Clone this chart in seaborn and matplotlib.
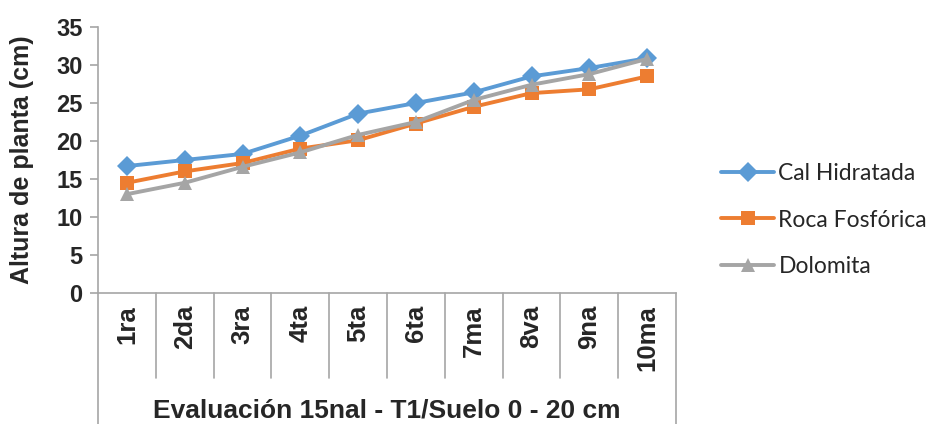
import numpy as np
import pandas as pd
import seaborn as sns
import matplotlib.pyplot as plt
from matplotlib.lines import Line2D

# Evaluation rounds (categories)
evaluaciones = ["1ra", "2da", "3ra", "4ta", "5ta", "6ta", "7ma", "8va", "9na", "10ma"]

# Plant height (cm) per amendment
cal_hidratada = [16.7, 17.5, 18.3, 20.7, 23.6, 25.0, 26.4, 28.5, 29.6, 30.9]
roca_fosforica = [14.5, 16.0, 17.1, 19.0, 20.1, 22.3, 24.5, 26.3, 26.8, 28.5]
dolomita = [13.0, 14.5, 16.6, 18.5, 20.8, 22.5, 25.4, 27.4, 28.8, 30.8]

series_names = ["Cal Hidratada", "Roca Fosfórica", "Dolomita"]
series_values = [cal_hidratada, roca_fosforica, dolomita]

y_ticks = [0, 5, 10, 15, 20, 25, 30, 35]

df = pd.DataFrame({
    "pos": np.tile(np.arange(len(evaluaciones)), len(series_names)),
    "Evaluación": np.tile(evaluaciones, len(series_names)),
    "Serie": np.repeat(series_names, len(evaluaciones)),
    "Altura": np.concatenate(series_values),
})

sns.set_theme(style="white")
plt.rcParams["font.family"] = ["Liberation Sans", "DejaVu Sans"]

palette = {"Cal Hidratada": "#5B9BD5", "Roca Fosfórica": "#ED7D31", "Dolomita": "#A5A5A5"}
markers = {"Cal Hidratada": "D", "Roca Fosfórica": "s", "Dolomita": "^"}

fig = plt.figure(figsize=(9.31, 4.24), dpi=100)
ax = fig.add_axes([98 / 931, 1 - 293 / 424, (676 - 98) / 931, (293 - 27) / 424])

sns.lineplot(data=df, x="pos", y="Altura", hue="Serie", style="Serie",
             palette=palette, markers=markers, dashes=False, linewidth=2.8,
             markersize=10.5, markeredgewidth=0, ax=ax, sort=False)

axis_color = "#A6A6A6"
ax.set_xlim(-0.5, len(evaluaciones) - 0.5)
ax.set_ylim(0, 35)
ax.set_yticks(y_ticks)
ax.set_yticklabels([str(v) for v in y_ticks], fontsize=17, fontweight="bold")
ax.tick_params(axis="y", length=6, width=1.2, color=axis_color, pad=5, left=True)
ax.set_xticks([])
ax.set_xlabel("")
ax.set_ylabel("Altura de planta (cm)", fontsize=18, fontweight="bold", labelpad=16)

for side in ["top", "right"]:
    ax.spines[side].set_visible(False)
for side in ["left", "bottom"]:
    ax.spines[side].set_color(axis_color)
    ax.spines[side].set_linewidth(1.2)

# Multi-level category box below the axis
trans = ax.get_xaxis_transform()
box_bottom = -(424 - 293) / 266
div_bottom = -(378 - 293) / 266
for i in range(1, len(evaluaciones)):
    ax.add_line(Line2D([i - 0.5, i - 0.5], [0, div_bottom], transform=trans,
                       color=axis_color, lw=1.2, clip_on=False))
for xe in [-0.5, len(evaluaciones) - 0.5]:
    ax.add_line(Line2D([xe, xe], [0, box_bottom], transform=trans,
                       color=axis_color, lw=1.2, clip_on=False))

for i, lab in enumerate(evaluaciones):
    ax.text(i, -(305 - 293) / 266, lab, transform=trans, rotation=90,
            ha="center", va="top", fontsize=18.5, fontweight="bold")

ax.text(0.5, -(411 - 293) / 266, "Evaluación 15nal - T1/Suelo 0 - 20 cm",
        transform=ax.transAxes, ha="center", va="center",
        fontsize=19, fontweight="bold")

handles, labels = ax.get_legend_handles_labels()
ax.legend(handles, labels, loc="center left", bbox_to_anchor=(712 / 931, 1 - 220 / 424),
          bbox_transform=fig.transFigure, frameon=False, handlelength=2.3,
          handletextpad=0.2, labelspacing=1.1, borderaxespad=0,
          prop={"family": "Lato", "size": 16.5})

fig.savefig("out.png", dpi=100)
